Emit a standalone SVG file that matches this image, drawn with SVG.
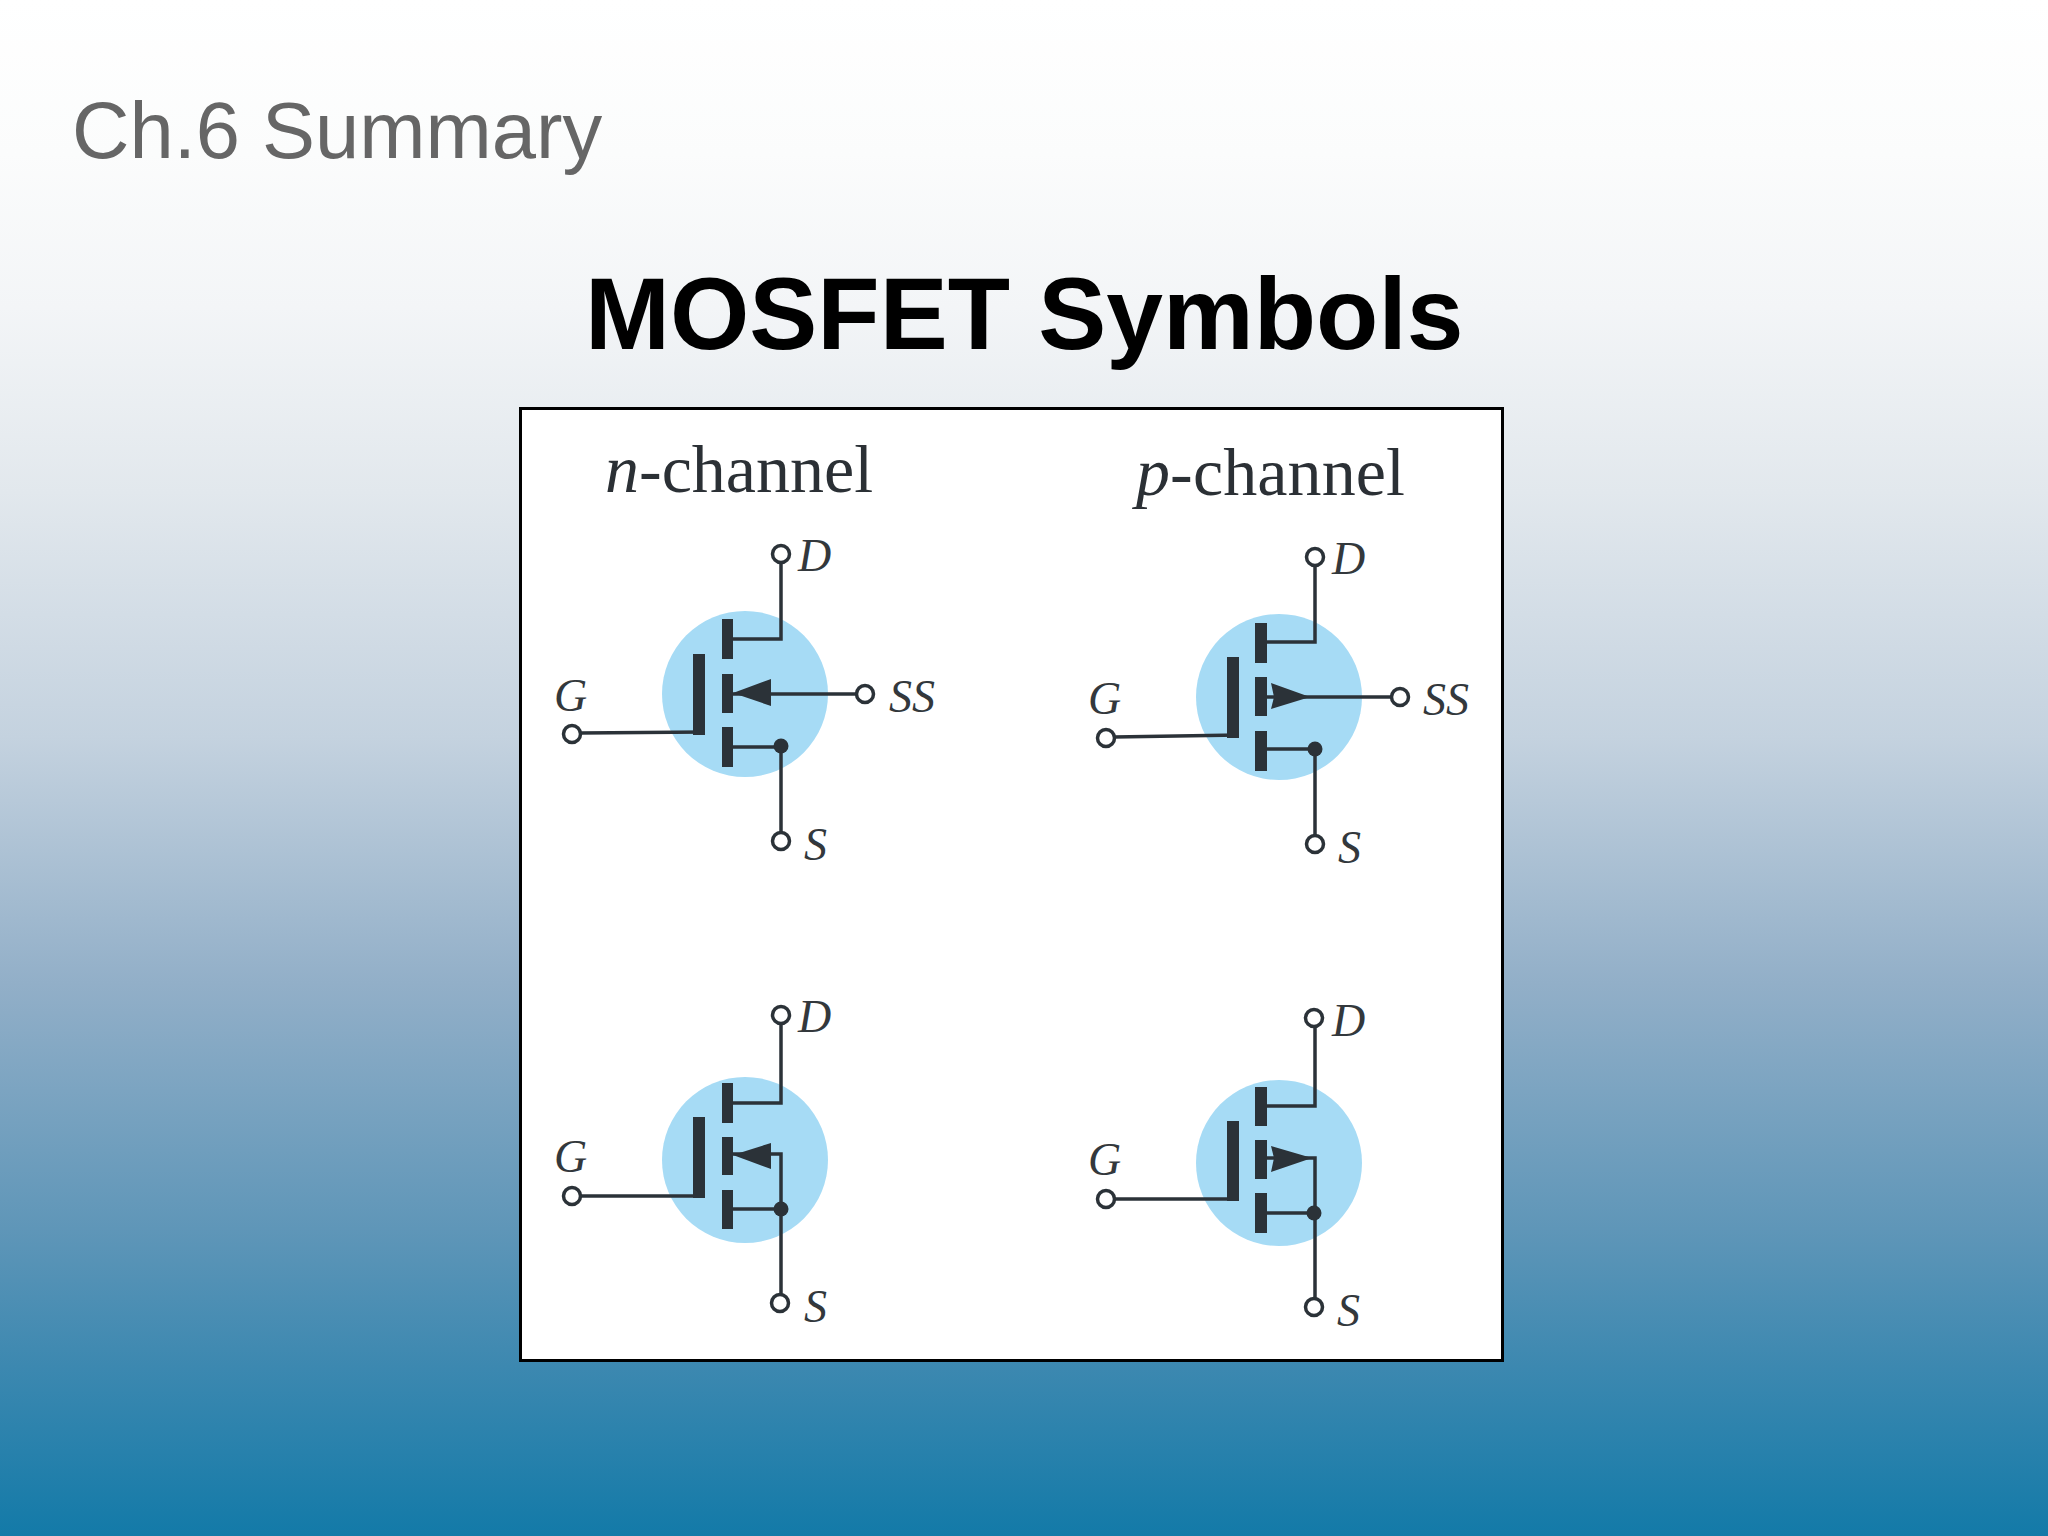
<svg xmlns="http://www.w3.org/2000/svg" width="2048" height="1536" viewBox="0 0 2048 1536">
<defs>
<linearGradient id="bg" x1="0" y1="0" x2="0" y2="1">
<stop offset="0" stop-color="#ffffff"/>
<stop offset="0.1" stop-color="#fbfcfc"/>
<stop offset="0.2" stop-color="#f3f5f7"/>
<stop offset="0.32" stop-color="#e2e8ed"/>
<stop offset="0.48" stop-color="#c4d2df"/>
<stop offset="0.64" stop-color="#92afc8"/>
<stop offset="0.8" stop-color="#5f96b8"/>
<stop offset="0.89" stop-color="#3c88b0"/>
<stop offset="1" stop-color="#137aa8"/>
</linearGradient>
</defs>
<style>
.head{font-family:"Liberation Sans",Arial,sans-serif}
.cap{font-family:"Liberation Serif","Times New Roman",serif;font-size:68px;fill:#2b3035}
.lab{font-family:"Liberation Serif","Times New Roman",serif;font-style:italic;font-size:46px;fill:#33383c}
.it{font-style:italic}
.disc{fill:#a6dbf5}
.bar{fill:#2b3238}
.wire{fill:none;stroke:#2b3238;stroke-width:3.5}
.term{fill:#fff;stroke:#2b3238;stroke-width:3.5}
.dot{fill:#2b3238}
</style>
<rect width="2048" height="1536" fill="url(#bg)"/>
<text class="head" x="72" y="158" font-size="79.5" fill="#666">Ch.6 Summary</text>
<text class="head" x="585" y="349" font-size="102" font-weight="700" fill="#000">MOSFET Symbols</text>
<rect id="panel" x="520.5" y="408.5" width="982" height="952" fill="#fff" stroke="#000" stroke-width="3"/>
<text class="cap" x="605" y="492"><tspan class="it">n</tspan>-channel</text>
<text class="cap" x="1136" y="495" textLength="269"><tspan class="it">p</tspan>-channel</text>

<g id="discs">
<circle class="disc" cx="745" cy="694" r="83"/>
<circle class="disc" cx="1279" cy="697" r="83"/>
<circle class="disc" cx="745" cy="1160" r="83"/>
<circle class="disc" cx="1279" cy="1163" r="83"/>
</g>

<g id="connectors">
<path class="wire" d="M781 561V639H733"/>
<path class="wire" d="M580 733L705 732"/>
<path class="wire" d="M857 694H733"/>
<path class="wire" d="M733 747H781V833"/>
<path class="wire" d="M781 1023V1103H733"/>
<path class="wire" d="M580 1196H705"/>
<path class="wire" d="M733 1154H781V1295"/>
<path class="wire" d="M733 1209H781"/>
<path class="wire" d="M1315 565V642H1267"/>
<path class="wire" d="M1114 737L1239 735"/>
<path class="wire" d="M1392 697H1267"/>
<path class="wire" d="M1267 749H1315V836"/>
<path class="wire" d="M1315 1026V1106H1267"/>
<path class="wire" d="M1114 1199H1239"/>
<path class="wire" d="M1267 1158H1315V1299"/>
<path class="wire" d="M1267 1213H1315"/>
</g>

<g id="nmos-depletion">
<rect class="bar" x="722" y="619" width="11" height="40"/>
<rect class="bar" x="722" y="674" width="11" height="39"/>
<rect class="bar" x="722" y="727" width="11" height="40"/>
<rect class="bar" x="693" y="654" width="12" height="81"/>
<polygon class="dot" points="733,693 771,679 771,706"/>
<circle class="dot" cx="781" cy="746" r="7.5"/>
<circle class="term" cx="781" cy="554" r="8.5"/>
<circle class="term" cx="572" cy="734" r="8.5"/>
<circle class="term" cx="865" cy="694" r="8.5"/>
<circle class="term" cx="781" cy="841" r="8.5"/>
<text class="lab" x="798" y="571">D</text>
<text class="lab" x="554" y="711">G</text>
<text class="lab" x="889" y="712">SS</text>
<text class="lab" x="804" y="860">S</text>
</g>

<g id="pmos-depletion">
<rect class="bar" x="1255" y="623" width="12" height="40"/>
<rect class="bar" x="1255" y="677" width="12" height="39"/>
<rect class="bar" x="1255" y="731" width="12" height="40"/>
<rect class="bar" x="1227" y="657" width="12" height="81"/>
<polygon class="dot" points="1310,697 1271,683 1274,697 1271,709"/>
<circle class="dot" cx="1315" cy="749" r="7.5"/>
<circle class="term" cx="1315" cy="557" r="8.5"/>
<circle class="term" cx="1106" cy="738" r="8.5"/>
<circle class="term" cx="1400" cy="697" r="8.5"/>
<circle class="term" cx="1315" cy="844" r="8.5"/>
<text class="lab" x="1332" y="574">D</text>
<text class="lab" x="1088" y="714">G</text>
<text class="lab" x="1423" y="715">SS</text>
<text class="lab" x="1338" y="863">S</text>
</g>

<g id="nmos-enhancement">
<rect class="bar" x="722" y="1083" width="11" height="40"/>
<rect class="bar" x="722" y="1137" width="11" height="38"/>
<rect class="bar" x="722" y="1190" width="11" height="39"/>
<rect class="bar" x="693" y="1117" width="12" height="81"/>
<polygon class="dot" points="733,1155 771,1143 771,1169"/>
<circle class="dot" cx="781" cy="1209" r="7.5"/>
<circle class="term" cx="781" cy="1015" r="8.5"/>
<circle class="term" cx="572" cy="1196" r="8.5"/>
<circle class="term" cx="780" cy="1303" r="8.5"/>
<text class="lab" x="798" y="1032">D</text>
<text class="lab" x="554" y="1172">G</text>
<text class="lab" x="804" y="1322">S</text>
</g>

<g id="pmos-enhancement">
<rect class="bar" x="1255" y="1087" width="12" height="39"/>
<rect class="bar" x="1255" y="1140" width="12" height="39"/>
<rect class="bar" x="1255" y="1193" width="12" height="40"/>
<rect class="bar" x="1227" y="1121" width="12" height="80"/>
<polygon class="dot" points="1312,1158 1271,1146 1274,1158 1271,1172"/>
<circle class="dot" cx="1314" cy="1213" r="7.5"/>
<circle class="term" cx="1314" cy="1018" r="8.5"/>
<circle class="term" cx="1106" cy="1199" r="8.5"/>
<circle class="term" cx="1314" cy="1307" r="8.5"/>
<text class="lab" x="1332" y="1036">D</text>
<text class="lab" x="1088" y="1175">G</text>
<text class="lab" x="1337" y="1326">S</text>
</g>
</svg>
